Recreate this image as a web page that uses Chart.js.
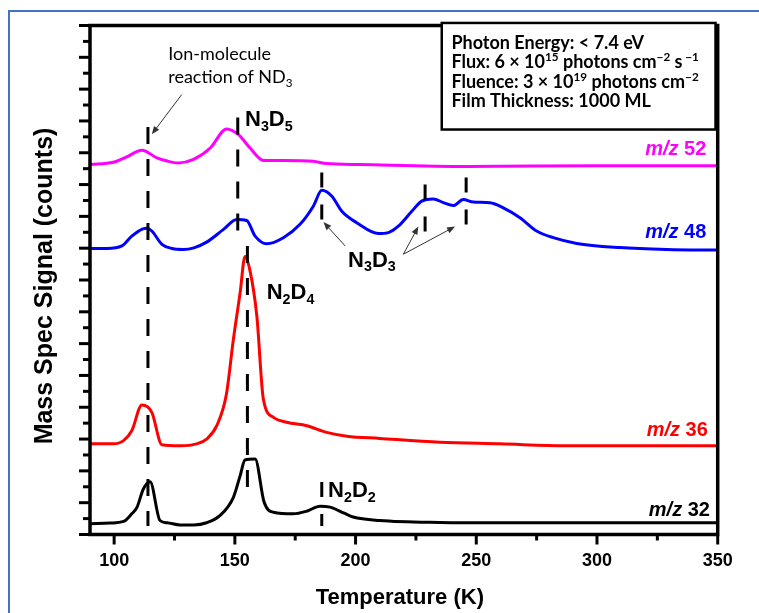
<!DOCTYPE html>
<html><head><meta charset="utf-8">
<script src="https://cdn.jsdelivr.net/npm/chart.js@4.4.0/dist/chart.umd.min.js"></script>
<style>
html,body{margin:0;padding:0;background:#fff;overflow:hidden}
#wrap{position:relative;width:759px;height:613px;overflow:hidden}
#frame{position:absolute;left:8px;top:10px;width:800px;height:700px;border:2px solid #4472C4;box-sizing:border-box}
canvas{position:absolute;left:0;top:0}
</style></head><body>
<div id="wrap"><div id="frame"></div><canvas id="c" width="759" height="613"></canvas></div>
<script>
// ---- data (temperature in K, signal in arbitrary offset counts) ----
const temps32 = [90, 98.3, 103.9, 107.3, 109.5, 112.1, 114.9, 119, 122, 127.3, 133, 138.3, 143.9, 149.4, 152.2, 154.2, 158.4, 162.1, 166, 174.2, 180, 185.3, 189.4, 195, 199, 210, 235, 260, 300, 350];
const signal32 = [0.34, 0.36, 0.41, 0.65, 0.86, 1.43, 1.66, 0.44, 0.37, 0.30, 0.30, 0.37, 0.60, 1.17, 1.85, 2.34, 2.37, 1.02, 0.70, 0.65, 0.74, 0.89, 0.86, 0.68, 0.55, 0.44, 0.38, 0.37, 0.37, 0.37];

const temps36 = [90, 99.6, 103.9, 107.3, 111.5, 115.6, 119.8, 127.3, 134.2, 138.3, 142.5, 146.5, 149.4, 152.2, 154.2, 156.3, 159.1, 161.8, 166, 171.5, 179.8, 188, 196.4, 210, 235, 260, 287, 350];
const signal36 = [2.85, 2.85, 2.95, 3.26, 4.07, 3.84, 2.82, 2.79, 2.85, 3.00, 3.42, 4.41, 6.14, 7.61, 8.74, 8.28, 6.87, 4.26, 3.68, 3.53, 3.42, 3.21, 3.09, 3.02, 2.90, 2.85, 2.79, 2.79];

const temps48 = [90, 97, 103.2, 107.3, 111.9, 113.5, 115.6, 119.8, 124, 128.7, 133, 138.3, 145.3, 150.8, 154.9, 158.4, 163.2, 170.1, 177, 182.5, 186, 190.1, 194.3, 200.5, 209.5, 213.6, 217.7, 223.3, 227.4, 232.2, 236.4, 240.5, 244.6, 248.8, 255.7, 261.2, 268.1, 275, 281.9, 291.6, 309.5, 328.9, 350];
const signal48 = [8.99, 8.99, 9.07, 9.38, 9.61, 9.63, 9.54, 9.12, 8.99, 8.96, 9.01, 9.19, 9.59, 9.90, 9.87, 9.38, 9.14, 9.33, 9.75, 10.32, 10.82, 10.64, 10.16, 9.80, 9.46, 9.49, 9.69, 10.16, 10.48, 10.55, 10.43, 10.34, 10.53, 10.45, 10.43, 10.27, 9.96, 9.54, 9.33, 9.15, 9.02, 8.96, 8.94];

const temps52 = [90, 99.7, 105.2, 111.5, 117.7, 122, 126.6, 132.9, 139.8, 146.6, 151.5, 156.3, 161.8, 170, 182.5, 188, 201.8, 246, 300, 350];
const signal52 = [11.63, 11.70, 11.87, 12.08, 11.84, 11.74, 11.68, 11.79, 12.15, 12.75, 12.57, 12.15, 11.76, 11.76, 11.73, 11.66, 11.63, 11.57, 11.59, 11.59];

const seriesNames = ['m/z 52', 'm/z 48', 'm/z 36', 'm/z 32'];
const xTickLabels = [100, 150, 200, 250, 300, 350];
const xMinorTicks = [125, 175, 225, 275, 325];
const xRange = [90, 350];
const yRange = [0, 16];

// annotation positions in data units
const peakLineT = [114, 151.2, 155.2];
const peakLineTop = [12.81, 13.11, 9.07];
const peakLineBottom = [0.27, 9.53, 1.43];
const markT = [186, 228.8, 245.8, 186];
const markTop = [11.38, 11.0, 11.22, 1.65];
const markBottom = [9.84, 9.5, 9.68, 0.27];

const colors = ['#FF00FF', '#0000FF', '#FF0000', '#000000'];

function pts(t, s) { return t.map((v, i) => ({x: v, y: s[i]})); }

const SANS = '"Liberation Sans", Arial, sans-serif';
const CAL = 'Lato, "Open Sans", sans-serif';

function richWidth(ctx, parts, size, family, weight) {
  let w = 0;
  for (const p of parts) {
    const s = p[1] ? size * 0.65 : size;
    ctx.font = `${p[2] ? 'italic ' : ''}${p[3] || weight} ${s}px ${family}`;
    w += ctx.measureText(p[0]).width;
  }
  return w;
}
function drawRich(ctx, x, y, parts, size, family, weight, align) {
  let w = richWidth(ctx, parts, size, family, weight);
  let cx = align === 'right' ? x - w : x;
  ctx.textBaseline = 'alphabetic'; ctx.textAlign = 'left';
  for (const p of parts) {
    const s = p[1] ? size * 0.65 : size;
    const dy = p[1] === 'sup' ? -size * 0.38 : p[1] === 'sub' ? size * 0.22 : 0;
    ctx.font = `${p[2] ? 'italic ' : ''}${p[3] || weight} ${s}px ${family}`;
    ctx.fillText(p[0], cx, y + dy);
    cx += ctx.measureText(p[0]).width;
  }
}
function arrow(ctx, x1, y1, x2, y2) {
  const ang = Math.atan2(y2 - y1, x2 - x1), L = 8, W = 3.2;
  ctx.save();
  ctx.strokeStyle = '#333'; ctx.fillStyle = '#333'; ctx.lineWidth = 1; ctx.setLineDash([]);
  ctx.beginPath(); ctx.moveTo(x1, y1);
  ctx.lineTo(x2 - Math.cos(ang) * L * 0.8, y2 - Math.sin(ang) * L * 0.8); ctx.stroke();
  ctx.beginPath(); ctx.moveTo(x2, y2);
  ctx.lineTo(x2 - Math.cos(ang) * L - Math.sin(ang) * W, y2 - Math.sin(ang) * L + Math.cos(ang) * W);
  ctx.lineTo(x2 - Math.cos(ang) * L + Math.sin(ang) * W, y2 - Math.sin(ang) * L - Math.cos(ang) * W);
  ctx.closePath(); ctx.fill();
  ctx.restore();
}

const chemLabels = [
  {parts: [['N'], ['3', 'sub'], ['D'], ['5', 'sub']], t: 154.2, v: 12.83},
  {parts: [['N'], ['2', 'sub'], ['D'], ['4', 'sub']], t: 163.2, v: 7.39},
  {parts: [['N'], ['3', 'sub'], ['D'], ['3', 'sub']], t: 196.9, v: 8.42},
  {parts: [['N'], ['2', 'sub'], ['D'], ['2', 'sub']], t: 188.6, v: 1.17}
];
const seriesLabelPos = [{t: 345.3, v: 11.94}, {t: 345.3, v: 9.33}, {t: 345.9, v: 3.11}, {t: 346.8, v: 0.58}];
const arrows = [
  [128.0, 13.83, 115.6, 12.58],
  [195.7, 9.07, 186.7, 9.82],
  [219.8, 8.81, 226.0, 9.68],
  [219.8, 8.81, 241.2, 9.68]
];
const boxLines = [
  [['Photon Energy: < 7.4 eV']],
  [['Flux: 6 × 10'], ['15', 'sup'], [' photons cm'], ['−2', 'sup'], [' s'], [' −1', 'sup']],
  [['Fluence: 3 × 10'], ['19', 'sup'], [' photons cm'], ['−2', 'sup']],
  [['Film Thickness: 1000 ML']]
];
const boxLineV = [15.26, 14.66, 14.04, 13.44];

const deco = {
  id: 'deco',
  afterDatasetsDraw(chart) {
    const ctx = chart.ctx, xs = chart.scales.x, ys = chart.scales.y, a = chart.chartArea;
    const X = v => xs.getPixelForValue(v), Y = v => ys.getPixelForValue(v);
    ctx.save();
    ctx.strokeStyle = '#000'; ctx.fillStyle = '#000';
    // frame
    ctx.lineWidth = 3.5;
    ctx.strokeRect(a.left, a.top, a.right - a.left, a.bottom - a.top);
    // y ticks
    ctx.lineWidth = 3;
    for (let v = yRange[0]; v <= yRange[1] + 1e-9; v += 0.5) {
      const len = Number.isInteger(v) ? 11 : 7, py = Y(v);
      ctx.beginPath(); ctx.moveTo(a.left, py); ctx.lineTo(a.left - len, py); ctx.stroke();
    }
    // x ticks
    xTickLabels.forEach(v => { ctx.beginPath(); ctx.moveTo(X(v), a.bottom); ctx.lineTo(X(v), a.bottom + 10); ctx.stroke(); });
    xMinorTicks.forEach(v => { ctx.beginPath(); ctx.moveTo(X(v), a.bottom); ctx.lineTo(X(v), a.bottom + 6); ctx.stroke(); });
    // dashed peak lines
    ctx.lineWidth = 3; ctx.setLineDash([17, 15]);
    peakLineT.forEach((t, i) => { ctx.beginPath(); ctx.moveTo(X(t), Y(peakLineTop[i])); ctx.lineTo(X(t), Y(peakLineBottom[i])); ctx.stroke(); });
    ctx.setLineDash([15, 17]);
    markT.forEach((t, i) => { ctx.beginPath(); ctx.moveTo(X(t), Y(markTop[i])); ctx.lineTo(X(t), Y(markBottom[i])); ctx.stroke(); });
    ctx.setLineDash([]);
    // arrows
    arrows.forEach(r => arrow(ctx, X(r[0]), Y(r[1]), X(r[2]), Y(r[3])));
    // ion-molecule text
    ctx.fillStyle = '#000';
    drawRich(ctx, X(122.4), Y(14.93), [['Ion-molecule']], 18, CAL, 'normal');
    drawRich(ctx, X(122.4), Y(14.20), [['reaction of ND'], ['3', 'sub']], 18, CAL, 'normal');
    // chem labels
    chemLabels.forEach(c => drawRich(ctx, X(c.t), Y(c.v), c.parts, 22, SANS, 'bold'));
    // series labels
    seriesLabelPos.forEach((p, i) => {
      ctx.fillStyle = colors[i];
      const parts = seriesNames[i].split(' ');
      drawRich(ctx, X(p.t), Y(p.v), [[parts[0], '', true], [' ' + parts[1]]], 20, SANS, 'bold', 'right');
    });
    // info box
    const bx1 = X(235.7), bx2 = X(349.1), by1 = Y(16.08), by2 = Y(12.73);
    ctx.fillStyle = '#fff'; ctx.fillRect(bx1, by1, bx2 - bx1, by2 - by1);
    ctx.strokeStyle = '#000'; ctx.lineWidth = 2.5; ctx.strokeRect(bx1, by1, bx2 - bx1, by2 - by1);
    ctx.fillStyle = '#000';
    boxLines.forEach((ln, i) => drawRich(ctx, X(239.7), Y(boxLineV[i]), ln, 18, CAL, 'bold'));
    // axis titles
    ctx.font = `bold 22px ${SANS}`; ctx.textAlign = 'center'; ctx.textBaseline = 'middle';
    ctx.fillText('Temperature (K)', (a.left + a.right) / 2 - 4, chart.height - 15);
    ctx.save();
    ctx.translate(45, (a.top + a.bottom) / 2 + 6); ctx.rotate(-Math.PI / 2);
    ctx.font = `bold 25px ${SANS}`;
    ctx.fillText('Mass Spec Signal (counts)', 0, 0);
    ctx.restore();
    ctx.restore();
  }
};

const datasets = [
  {label: seriesNames[0], data: pts(temps52, signal52)},
  {label: seriesNames[1], data: pts(temps48, signal48)},
  {label: seriesNames[2], data: pts(temps36, signal36)},
  {label: seriesNames[3], data: pts(temps32, signal32)}
].map((d, i) => Object.assign(d, {borderColor: colors[i], backgroundColor: colors[i], borderWidth: 3, pointRadius: 0, cubicInterpolationMode: 'monotone', fill: false}));

new Chart(document.getElementById('c'), {
  type: 'line',
  data: {datasets},
  options: {
    responsive: false, animation: false,
    layout: {padding: {left: 0, top: 25.5, right: 41.3, bottom: 0}},
    plugins: {legend: {display: false}, tooltip: {enabled: false}},
    scales: {
      x: {
        type: 'linear', min: xRange[0], max: xRange[1],
        afterBuildTicks: s => { s.ticks = xTickLabels.map(v => ({value: v})); },
        afterFit: s => { s.height = 78.5; },
        grid: {display: false, drawTicks: false},
        border: {display: false},
        ticks: {color: '#000', font: {family: SANS, size: 18, weight: 'bold'}, padding: 16, maxRotation: 0}
      },
      y: {
        type: 'linear', min: yRange[0], max: yRange[1],
        afterFit: s => { s.width = 90; },
        grid: {display: false, drawTicks: false},
        border: {display: false},
        ticks: {display: false}
      }
    }
  },
  plugins: [deco]
});
</script>
</body></html>
